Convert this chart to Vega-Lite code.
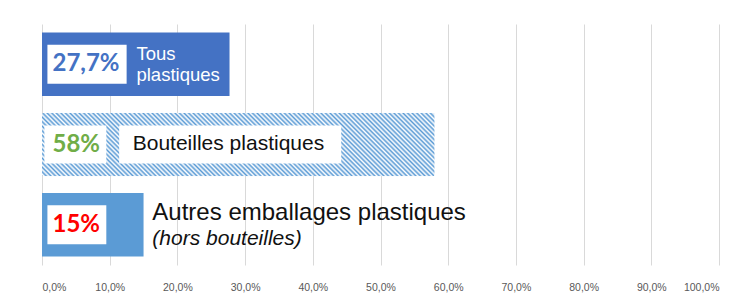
{
  "$schema": "https://vega.github.io/schema/vega-lite/v6.json",
  "width": 677,
  "height": 241,
  "autosize": "none",
  "padding": {"left": 42, "top": 24, "right": 31, "bottom": 37},
  "background": "white",
  "config": {"view": {"stroke": null}},
  "data": {"values": [
    {"cat": "Tous plastiques", "value": 27.7, "pct": "27,7%", "note": ""},
    {"cat": "Bouteilles plastiques", "value": 58, "pct": "58%", "note": ""},
    {"cat": "Autres emballages plastiques", "value": 15, "pct": "15%", "note": "(hors bouteilles)"}
  ]},
  "encoding": {
    "y": {"field": "cat", "type": "nominal", "axis": null,
      "sort": ["Tous plastiques", "Bouteilles plastiques", "Autres emballages plastiques"],
      "scale": {"paddingInner": 0.21, "paddingOuter": 0.105}}
  },
  "layer": [
    {
      "transform": [{"filter": "datum.cat !== 'Bouteilles plastiques'"}],
      "mark": {"type": "bar"},
      "encoding": {
        "x": {"field": "value", "type": "quantitative",
          "scale": {"domain": [0, 100], "nice": false},
          "axis": {"values": [0,10,20,30,40,50,60,70,80,90,100], "title": null, "grid": true,
            "gridColor": "#D9D9D9", "domain": false, "ticks": false, "labelPadding": 17,
            "labelFont": "Liberation Sans", "labelFontSize": 10.5, "labelColor": "#595959",
            "labelExpr": "replace(format(datum.value, '.1f'), '.', ',') + '%'"}},
        "color": {"field": "cat", "type": "nominal", "legend": null,
          "scale": {"domain": ["Tous plastiques", "Autres emballages plastiques"], "range": ["#4472C4", "#5B9BD5"]}}
      }
    },
    {
      "transform": [{"filter": "datum.cat === 'Bouteilles plastiques'"}],
      "mark": {"type": "bar", "cornerRadius": 2, "fill": {"gradient": "linear", "x1": 0, "y1": 1, "x2": 1.1322, "y2": 0.8169, "stops": [
{"offset":0,"color":"#5b9bd5"},{"offset":0.005,"color":"#fff"},{"offset":0.01,"color":"#5b9bd5"},{"offset":0.015,"color":"#fff"},{"offset":0.02,"color":"#5b9bd5"},{"offset":0.025,"color":"#fff"},{"offset":0.03,"color":"#5b9bd5"},{"offset":0.035,"color":"#fff"},{"offset":0.04,"color":"#5b9bd5"},{"offset":0.045,"color":"#fff"},
{"offset":0.05,"color":"#5b9bd5"},{"offset":0.055,"color":"#fff"},{"offset":0.06,"color":"#5b9bd5"},{"offset":0.065,"color":"#fff"},{"offset":0.07,"color":"#5b9bd5"},{"offset":0.075,"color":"#fff"},{"offset":0.08,"color":"#5b9bd5"},{"offset":0.085,"color":"#fff"},{"offset":0.09,"color":"#5b9bd5"},{"offset":0.095,"color":"#fff"},
{"offset":0.1,"color":"#5b9bd5"},{"offset":0.105,"color":"#fff"},{"offset":0.11,"color":"#5b9bd5"},{"offset":0.115,"color":"#fff"},{"offset":0.12,"color":"#5b9bd5"},{"offset":0.125,"color":"#fff"},{"offset":0.13,"color":"#5b9bd5"},{"offset":0.135,"color":"#fff"},{"offset":0.14,"color":"#5b9bd5"},{"offset":0.145,"color":"#fff"},
{"offset":0.15,"color":"#5b9bd5"},{"offset":0.155,"color":"#fff"},{"offset":0.16,"color":"#5b9bd5"},{"offset":0.165,"color":"#fff"},{"offset":0.17,"color":"#5b9bd5"},{"offset":0.175,"color":"#fff"},{"offset":0.18,"color":"#5b9bd5"},{"offset":0.185,"color":"#fff"},{"offset":0.19,"color":"#5b9bd5"},{"offset":0.195,"color":"#fff"},
{"offset":0.2,"color":"#5b9bd5"},{"offset":0.205,"color":"#fff"},{"offset":0.21,"color":"#5b9bd5"},{"offset":0.215,"color":"#fff"},{"offset":0.22,"color":"#5b9bd5"},{"offset":0.225,"color":"#fff"},{"offset":0.23,"color":"#5b9bd5"},{"offset":0.235,"color":"#fff"},{"offset":0.24,"color":"#5b9bd5"},{"offset":0.245,"color":"#fff"},
{"offset":0.25,"color":"#5b9bd5"},{"offset":0.255,"color":"#fff"},{"offset":0.26,"color":"#5b9bd5"},{"offset":0.265,"color":"#fff"},{"offset":0.27,"color":"#5b9bd5"},{"offset":0.275,"color":"#fff"},{"offset":0.28,"color":"#5b9bd5"},{"offset":0.285,"color":"#fff"},{"offset":0.29,"color":"#5b9bd5"},{"offset":0.295,"color":"#fff"},
{"offset":0.3,"color":"#5b9bd5"},{"offset":0.305,"color":"#fff"},{"offset":0.31,"color":"#5b9bd5"},{"offset":0.315,"color":"#fff"},{"offset":0.32,"color":"#5b9bd5"},{"offset":0.325,"color":"#fff"},{"offset":0.33,"color":"#5b9bd5"},{"offset":0.335,"color":"#fff"},{"offset":0.34,"color":"#5b9bd5"},{"offset":0.345,"color":"#fff"},
{"offset":0.35,"color":"#5b9bd5"},{"offset":0.355,"color":"#fff"},{"offset":0.36,"color":"#5b9bd5"},{"offset":0.365,"color":"#fff"},{"offset":0.37,"color":"#5b9bd5"},{"offset":0.375,"color":"#fff"},{"offset":0.38,"color":"#5b9bd5"},{"offset":0.385,"color":"#fff"},{"offset":0.39,"color":"#5b9bd5"},{"offset":0.395,"color":"#fff"},
{"offset":0.4,"color":"#5b9bd5"},{"offset":0.405,"color":"#fff"},{"offset":0.41,"color":"#5b9bd5"},{"offset":0.415,"color":"#fff"},{"offset":0.42,"color":"#5b9bd5"},{"offset":0.425,"color":"#fff"},{"offset":0.43,"color":"#5b9bd5"},{"offset":0.435,"color":"#fff"},{"offset":0.44,"color":"#5b9bd5"},{"offset":0.445,"color":"#fff"},
{"offset":0.45,"color":"#5b9bd5"},{"offset":0.455,"color":"#fff"},{"offset":0.46,"color":"#5b9bd5"},{"offset":0.465,"color":"#fff"},{"offset":0.47,"color":"#5b9bd5"},{"offset":0.475,"color":"#fff"},{"offset":0.48,"color":"#5b9bd5"},{"offset":0.485,"color":"#fff"},{"offset":0.49,"color":"#5b9bd5"},{"offset":0.495,"color":"#fff"},
{"offset":0.5,"color":"#5b9bd5"},{"offset":0.505,"color":"#fff"},{"offset":0.51,"color":"#5b9bd5"},{"offset":0.515,"color":"#fff"},{"offset":0.52,"color":"#5b9bd5"},{"offset":0.525,"color":"#fff"},{"offset":0.53,"color":"#5b9bd5"},{"offset":0.535,"color":"#fff"},{"offset":0.54,"color":"#5b9bd5"},{"offset":0.545,"color":"#fff"},
{"offset":0.55,"color":"#5b9bd5"},{"offset":0.555,"color":"#fff"},{"offset":0.56,"color":"#5b9bd5"},{"offset":0.565,"color":"#fff"},{"offset":0.57,"color":"#5b9bd5"},{"offset":0.575,"color":"#fff"},{"offset":0.58,"color":"#5b9bd5"},{"offset":0.585,"color":"#fff"},{"offset":0.59,"color":"#5b9bd5"},{"offset":0.595,"color":"#fff"},
{"offset":0.6,"color":"#5b9bd5"},{"offset":0.605,"color":"#fff"},{"offset":0.61,"color":"#5b9bd5"},{"offset":0.615,"color":"#fff"},{"offset":0.62,"color":"#5b9bd5"},{"offset":0.625,"color":"#fff"},{"offset":0.63,"color":"#5b9bd5"},{"offset":0.635,"color":"#fff"},{"offset":0.64,"color":"#5b9bd5"},{"offset":0.645,"color":"#fff"},
{"offset":0.65,"color":"#5b9bd5"},{"offset":0.655,"color":"#fff"},{"offset":0.66,"color":"#5b9bd5"},{"offset":0.665,"color":"#fff"},{"offset":0.67,"color":"#5b9bd5"},{"offset":0.675,"color":"#fff"},{"offset":0.68,"color":"#5b9bd5"},{"offset":0.685,"color":"#fff"},{"offset":0.69,"color":"#5b9bd5"},{"offset":0.695,"color":"#fff"},
{"offset":0.7,"color":"#5b9bd5"},{"offset":0.705,"color":"#fff"},{"offset":0.71,"color":"#5b9bd5"},{"offset":0.715,"color":"#fff"},{"offset":0.72,"color":"#5b9bd5"},{"offset":0.725,"color":"#fff"},{"offset":0.73,"color":"#5b9bd5"},{"offset":0.735,"color":"#fff"},{"offset":0.74,"color":"#5b9bd5"},{"offset":0.745,"color":"#fff"},
{"offset":0.75,"color":"#5b9bd5"},{"offset":0.755,"color":"#fff"},{"offset":0.76,"color":"#5b9bd5"},{"offset":0.765,"color":"#fff"},{"offset":0.77,"color":"#5b9bd5"},{"offset":0.775,"color":"#fff"},{"offset":0.78,"color":"#5b9bd5"},{"offset":0.785,"color":"#fff"},{"offset":0.79,"color":"#5b9bd5"},{"offset":0.795,"color":"#fff"},
{"offset":0.8,"color":"#5b9bd5"},{"offset":0.805,"color":"#fff"},{"offset":0.81,"color":"#5b9bd5"},{"offset":0.815,"color":"#fff"},{"offset":0.82,"color":"#5b9bd5"},{"offset":0.825,"color":"#fff"},{"offset":0.83,"color":"#5b9bd5"},{"offset":0.835,"color":"#fff"},{"offset":0.84,"color":"#5b9bd5"},{"offset":0.845,"color":"#fff"},
{"offset":0.85,"color":"#5b9bd5"},{"offset":0.855,"color":"#fff"},{"offset":0.86,"color":"#5b9bd5"},{"offset":0.865,"color":"#fff"},{"offset":0.87,"color":"#5b9bd5"},{"offset":0.875,"color":"#fff"},{"offset":0.88,"color":"#5b9bd5"},{"offset":0.885,"color":"#fff"},{"offset":0.89,"color":"#5b9bd5"},{"offset":0.895,"color":"#fff"},
{"offset":0.9,"color":"#5b9bd5"},{"offset":0.905,"color":"#fff"},{"offset":0.91,"color":"#5b9bd5"},{"offset":0.915,"color":"#fff"},{"offset":0.92,"color":"#5b9bd5"},{"offset":0.925,"color":"#fff"},{"offset":0.93,"color":"#5b9bd5"},{"offset":0.935,"color":"#fff"},{"offset":0.94,"color":"#5b9bd5"},{"offset":0.945,"color":"#fff"},
{"offset":0.95,"color":"#5b9bd5"},{"offset":0.955,"color":"#fff"},{"offset":0.96,"color":"#5b9bd5"},{"offset":0.965,"color":"#fff"},{"offset":0.97,"color":"#5b9bd5"},{"offset":0.975,"color":"#fff"},{"offset":0.98,"color":"#5b9bd5"},{"offset":0.985,"color":"#fff"},{"offset":0.99,"color":"#5b9bd5"},{"offset":0.995,"color":"#fff"},
{"offset":1,"color":"#5b9bd5"}]}},
      "encoding": {"x": {"field": "value", "type": "quantitative"}}
    },
    {
      "transform": [{"filter": "datum.cat === 'Tous plastiques'"}],
      "mark": {"type": "bar", "color": "white", "height": 39},
      "encoding": {"x": {"datum": 0.8}, "x2": {"datum": 12.5}}
    },
    {
      "transform": [{"filter": "datum.cat === 'Bouteilles plastiques'"}],
      "mark": {"type": "bar", "color": "white", "height": 38},
      "encoding": {"x": {"datum": 0.35}, "x2": {"datum": 9.5}}
    },
    {
      "transform": [{"filter": "datum.cat === 'Bouteilles plastiques'"}],
      "mark": {"type": "bar", "color": "white", "height": 38},
      "encoding": {"x": {"datum": 11.4}, "x2": {"datum": 44.2}}
    },
    {
      "transform": [{"filter": "datum.cat === 'Autres emballages plastiques'"}],
      "mark": {"type": "bar", "color": "white", "height": 39},
      "encoding": {"x": {"datum": 0.8}, "x2": {"datum": 9.5}}
    },
    {
      "mark": {"type": "text", "font": "Lato", "fontWeight": "bold", "fontSize": 24, "align": "left", "baseline": "middle"},
      "encoding": {
        "x": {"datum": 1.55},
        "text": {"field": "pct"},
        "color": {"condition": [
          {"test": "datum.cat === 'Tous plastiques'", "value": "#4472C4"},
          {"test": "datum.cat === 'Bouteilles plastiques'", "value": "#70AD47"}], "value": "#FF0000"}
      }
    },
    {
      "transform": [{"filter": "datum.cat === 'Tous plastiques'"}],
      "mark": {"type": "text", "font": "Liberation Sans", "fontSize": 18.5, "align": "left", "baseline": "middle", "color": "white", "lineBreak": " ", "lineHeight": 21, "dy": -10},
      "encoding": {"x": {"datum": 13.95}, "text": {"field": "cat"}}
    },
    {
      "transform": [{"filter": "datum.cat === 'Bouteilles plastiques'"}],
      "mark": {"type": "text", "font": "Liberation Sans", "fontSize": 21, "align": "left", "baseline": "middle", "color": "#111111", "dy": -1},
      "encoding": {"x": {"datum": 13.4}, "text": {"field": "cat"}}
    },
    {
      "transform": [{"filter": "datum.cat === 'Autres emballages plastiques'"}],
      "mark": {"type": "text", "font": "Liberation Sans", "fontSize": 24, "align": "left", "baseline": "middle", "color": "#111111", "dy": -11.5},
      "encoding": {"x": {"datum": 16.3}, "text": {"field": "cat"}}
    },
    {
      "transform": [{"filter": "datum.cat === 'Autres emballages plastiques'"}],
      "mark": {"type": "text", "font": "Liberation Sans", "fontSize": 21, "fontStyle": "italic", "align": "left", "baseline": "middle", "color": "#111111", "dy": 14.5},
      "encoding": {"x": {"datum": 16.3}, "text": {"field": "note"}}
    }
  ]
}
